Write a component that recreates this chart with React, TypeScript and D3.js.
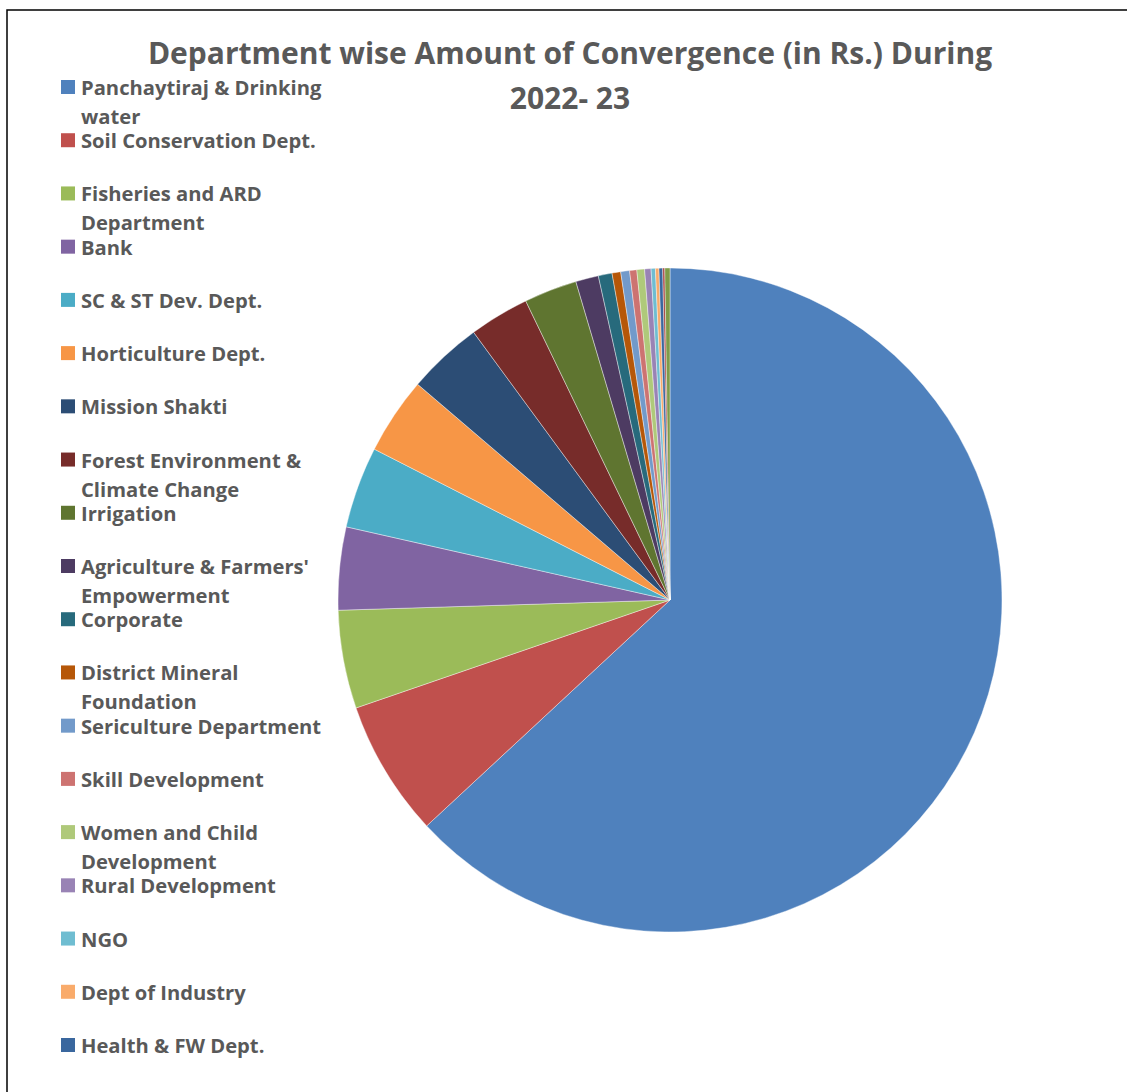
import React from "react";
import * as d3 from "d3";

const departments = [
  "Panchaytiraj & Drinking\nwater",
  "Soil Conservation Dept.",
  "Fisheries and ARD\nDepartment",
  "Bank",
  "SC & ST Dev. Dept.",
  "Horticulture Dept.",
  "Mission Shakti",
  "Forest Environment &\nClimate Change",
  "Irrigation",
  "Agriculture & Farmers'\nEmpowerment",
  "Corporate",
  "District Mineral\nFoundation",
  "Sericulture Department",
  "Skill Development",
  "Women and Child\nDevelopment",
  "Rural Development",
  "NGO",
  "Dept of Industry",
  "Health & FW Dept.",
  "Others (a)",
  "Others (b)",
];

// share of total convergence amount (%)
const amounts = [
  63.1, 6.64, 4.78, 4.03, 3.97, 3.75, 3.67, 2.92, 2.58, 1.11, 0.67, 0.42,
  0.43, 0.35, 0.375, 0.31, 0.21, 0.17, 0.18, 0.1, 0.25,
];

const palette = [
  "#4F81BD", "#C0504D", "#9BBB59", "#8064A2", "#4BACC6", "#F79646",
  "#2C4D75", "#772C2A", "#5F7530", "#4D3B62", "#276A7C", "#B65708",
  "#729ACA", "#CD7371", "#AFC97A", "#9983B5", "#6FBDD1", "#F9AB6B",
  "#3A679E", "#A9403E", "#7F9B48",
];

const titleLines = [
  "Department wise Amount of Convergence (in Rs.) During",
  "2022- 23",
];

const legendCount = 19;

export default function App() {
  const W = 1127;
  const H = 1092;
  const cx = 670;
  const cy = 600;
  const r = 332;
  const data = departments.map((d, i) => ({ name: d, value: amounts[i], color: palette[i] }));
  const pie = d3
    .pie<any>()
    .sort(null)
    .value((d: any) => d.value)
    .startAngle(0)
    .endAngle(2 * Math.PI);
  const arcs = pie(data);
  const arc = d3.arc<any>().innerRadius(0).outerRadius(r);

  const legendY = d3.scaleLinear().domain([0, legendCount - 1]).range([87, 1045]);
  const font = "'Open Sans', sans-serif";
  const textColor = "#595959";

  return (
    <div style={{ position: "absolute", left: 0, top: 0 }}>
      <svg width={W} height={H} style={{ display: "block", fontVariantLigatures: "none" }}>
        <rect x={0} y={0} width={W} height={H} fill="#fff" />
        <rect x={7} y={10} width={W + 20} height={H + 20} fill="none" stroke="#000" strokeWidth={1.5} />
        <g transform={`translate(${cx},${cy})`}>
          {arcs.map((a, i) => (
            <path key={i} d={arc(a) as string} fill={a.data.color} stroke="#fff" strokeWidth={0.4} />
          ))}
        </g>
        {titleLines.map((t, i) => (
          <text
            key={i}
            x={570}
            y={52 + i * 45}
            textAnchor="middle"
            dominantBaseline="central"
            fontFamily={font}
            fontWeight="bold"
            fontSize={30}
            fill={textColor}
          >
            {t}
          </text>
        ))}
        {data.slice(0, legendCount).map((d, i) => {
          const y = legendY(i);
          const lines = d.name.split("\n");
          return (
            <g key={i}>
              <rect x={61} y={y - 7} width={14} height={14} fill={d.color} />
              {lines.map((ln, j) => (
                <text
                  key={j}
                  x={81}
                  y={y + j * 29}
                  dominantBaseline="central"
                  fontFamily={font}
                  fontWeight="bold"
                  fontSize={20.2}
                  fill={textColor}
                >
                  {ln}
                </text>
              ))}
            </g>
          );
        })}
      </svg>
    </div>
  );
}
